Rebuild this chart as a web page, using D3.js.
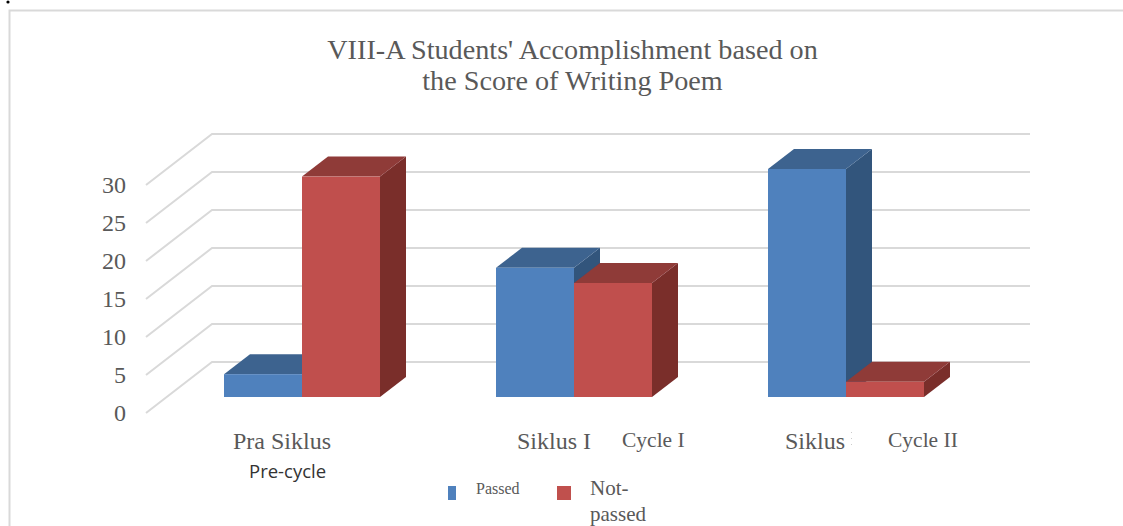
<!DOCTYPE html>
<html>

<head>
    <meta charset="UTF-8">
    <title>VIII-A Students' Accomplishment</title>
    <script src="https://d3js.org/d3.v7.min.js"></script>
    <style>
        body { margin: 0; background: #fff; }
        svg { display: block; }
        text { font-family: "Liberation Serif", serif; fill: #595959; }
    </style>
</head>

<body>
    <script>
        const categories = ["Pra Siklus", "Siklus I", "Siklus"];
        const seriesNames = ["Passed", "Not-passed"];
        const passed = [3, 17, 30];
        const notPassed = [29, 15, 2];
        const yTicks = [0, 5, 10, 15, 20, 25, 30];
        const titleLines = ["VIII-A Students' Accomplishment based on", "the Score of Writing Poem"];
        const colors = {
            "Passed": { front: "#4f81bd", top: "#3d638f", side: "#31547c" },
            "Not-passed": { front: "#c0504d", top: "#8f3a38", side: "#7a2e2c" }
        };

        const width = 1123, height = 526;

        // fake 3d offsets
        const floorDx = 66, floorDy = 51;
        const barDx = 26, barDy = 20;
        const barFloor = 16;

        const svg = d3.select("body").append("svg")
            .attr("width", width).attr("height", height);

        const defs = svg.append("defs");
        defs.append("filter").attr("id", "soft")
            .append("feGaussianBlur").attr("stdDeviation", 0.5);

        const yScale = d3.scaleLinear().domain([0, 30]).range([413, 185]);

        const x0 = d3.scaleBand().domain(categories)
            .range([166, 982])
            .paddingInner(116 / 272).paddingOuter(58 / 272);
        const x1 = d3.scaleBand().domain(seriesNames).range([0, x0.bandwidth()]);

        // frame
        svg.append("path")
            .attr("d", `M9.5,${height} V10.5 H${width}`)
            .attr("fill", "none").attr("stroke", "#d9d9d9").attr("stroke-width", 2);

        // stray speck top left
        svg.append("circle").attr("cx", 8).attr("cy", 2).attr("r", 1.6).attr("fill", "#000");

        // title
        svg.append("g").selectAll("text")
            .data(titleLines).enter().append("text")
            .attr("x", 572.5)
            .attr("y", (d, i) => 59 + i * 31)
            .attr("text-anchor", "middle")
            .style("font-size", "28.2px")
            .text(d => d);

        // gridlines: front edge, floor diagonal, then back wall
        const marks = svg.append("g").attr("filter", "url(#soft)");
        const gridLine = d3.line();
        marks.append("g").selectAll("path")
            .data(yTicks).enter().append("path")
            .attr("d", d => gridLine([
                [146, yScale(d)],
                [146 + floorDx, yScale(d) - floorDy],
                [1030, yScale(d) - floorDy]
            ]))
            .attr("fill", "none").attr("stroke", "#d9d9d9").attr("stroke-width", 2);

        // y axis labels
        const yAxis = d3.axisLeft(yScale).tickValues(yTicks).tickSize(0).tickPadding(0);
        const yG = svg.append("g").attr("transform", "translate(126,0)").call(yAxis);
        yG.select(".domain").remove();
        yG.selectAll("text")
            .style("font-family", '"Liberation Serif", serif')
            .style("font-size", "24px").style("fill", "#595959");

        // bars
        const rows = [];
        categories.forEach((c, i) => {
            rows.push({ cat: c, name: "Passed", value: passed[i] });
            rows.push({ cat: c, name: "Not-passed", value: notPassed[i] });
        });

        const bar = marks.append("g").selectAll("g")
            .data(rows).enter().append("g");

        const baseY = yScale(0) - barFloor;
        const left = d => x0(d.cat) + x1(d.name);
        const right = d => left(d) + x1.bandwidth();
        const topY = d => baseY - (yScale(0) - yScale(d.value));

        bar.append("path")
            .attr("d", d => `M${right(d)},${baseY} L${right(d) + barDx},${baseY - barDy} V${topY(d) - barDy} L${right(d)},${topY(d)} Z`)
            .attr("fill", d => colors[d.name].side);
        bar.append("path")
            .attr("d", d => `M${left(d)},${topY(d)} L${left(d) + barDx},${topY(d) - barDy} H${right(d) + barDx} L${right(d)},${topY(d)} Z`)
            .attr("fill", d => colors[d.name].top);
        bar.append("rect")
            .attr("x", left)
            .attr("y", topY)
            .attr("width", x1.bandwidth())
            .attr("height", d => baseY - topY(d))
            .attr("fill", d => colors[d.name].front);

        // category labels, these sit where the original has them, not centred on the bars
        const catLabels = [
            { text: categories[0], x: 233, y: 449, size: 24 },
            { text: categories[1], x: 517, y: 449, size: 24 },
            { text: categories[2], x: 785, y: 449, size: 24 },
            { text: "Cycle I", x: 622, y: 447, size: 21.5 },
            { text: "Cycle II", x: 888, y: 447, size: 21.5 }
        ];
        svg.append("g").selectAll("text")
            .data(catLabels).enter().append("text")
            .attr("x", d => d.x).attr("y", d => d.y)
            .style("font-size", d => d.size + "px")
            .text(d => d.text);

        svg.append("text").attr("x", 249).attr("y", 478)
            .style("font-family", '"Open Sans", sans-serif')
            .style("font-size", "18.5px").style("fill", "#333")
            .text("Pre-cycle");

        // what is left of the cut off label
        svg.append("path").attr("d", "M851.5,432 V449")
            .attr("stroke", "#ccc").attr("stroke-dasharray", "1,5");

        // legend
        svg.append("rect").attr("x", 448).attr("y", 486).attr("width", 8).attr("height", 14)
            .attr("fill", colors["Passed"].front);
        svg.append("rect").attr("x", 557).attr("y", 486).attr("width", 14).attr("height", 14)
            .attr("fill", colors["Not-passed"].front);
        svg.append("text").attr("x", 476).attr("y", 494)
            .style("font-size", "16px").text(seriesNames[0]);
        svg.append("text").attr("x", 590).attr("y", 495)
            .style("font-size", "21px").text("Not-");
        svg.append("text").attr("x", 590).attr("y", 521)
            .style("font-size", "21px").text("passed");
    </script>
</body>

</html>
